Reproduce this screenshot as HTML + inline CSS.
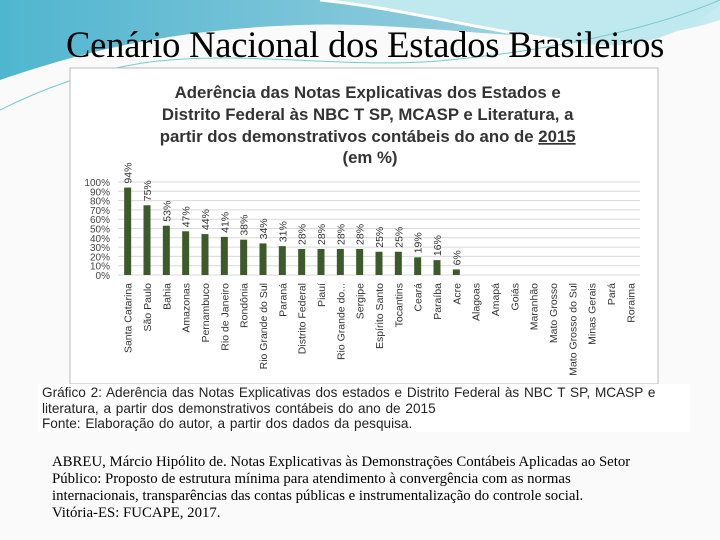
<!DOCTYPE html>
<html><head><meta charset="utf-8"><style>
body{margin:0;width:720px;height:540px;overflow:hidden;background:#fff;position:relative;font-family:"Liberation Sans",sans-serif}
.title{position:absolute;left:66px;top:23px;font:36.5px "Liberation Serif",serif;color:#000;white-space:nowrap;letter-spacing:-0.2px}
.ref{position:absolute;left:52px;top:454px;font:14.8px "Liberation Serif",serif;line-height:17px;color:#000;width:640px}
.cap{position:absolute;left:38px;top:384px;width:652px;height:48px;background:#fff;font-size:13.6px;line-height:15.5px;color:#222;padding:1px 4px;box-sizing:border-box;word-spacing:1px}
</style></head><body>
<svg width="720" height="540" style="position:absolute;left:0;top:0">
<defs><linearGradient id="g" x1="0" y1="0" x2="1" y2="0"><stop offset="0" stop-color="#4fb6cf"/><stop offset="0.6" stop-color="#8cc9dc"/><stop offset="1" stop-color="#c8ecf2"/></linearGradient></defs>
<rect width="720" height="540" fill="#fafafa"/>
<path d="M0,0 H720 V20 C600,60 450,20 300,25 C150,30 60,60 0,80 Z" fill="url(#g)"/>
<path d="M330,0 C420,10 520,40 600,45 C660,48 700,20 720,5 V0 Z" fill="#bfe8ef"/>
<path d="M320,0 C400,8 480,30 560,40" stroke="#fff" stroke-width="3" fill="none"/>
<path d="M0,110 C40,90 90,70 150,62 C250,50 350,70 450,60 C550,50 650,30 720,0" stroke="#7cc" stroke-width="1" fill="none"/>
</svg>
<div class="title">Cenário Nacional dos Estados Brasileiros</div>
<svg width="720" height="540" style="position:absolute;left:0;top:0" id="chart">
<rect x="70" y="68" width="588" height="316" fill="#fff" stroke="#bbb"/>
<text font-family="Liberation Sans" font-weight="bold" font-size="16.8" fill="#333" text-anchor="middle">
<tspan x="370" y="98">Aderência das Notas Explicativas dos Estados e</tspan>
<tspan x="370" y="120">Distrito Federal às NBC T SP, MCASP e Literatura, a</tspan>
<tspan x="370" y="142">partir dos demonstrativos contábeis do ano de <tspan text-decoration="underline">2015</tspan></tspan>
<tspan x="370" y="163">(em %)</tspan></text>
<g id="grid"></g><g id="bars"></g>
</svg>
<div class="cap">Gráfico 2: Aderência das Notas Explicativas dos estados e Distrito Federal às NBC T SP, MCASP e literatura, a partir dos demonstrativos contábeis do ano de 2015<br>Fonte: Elaboração do autor, a partir dos dados da pesquisa.</div>
<div class="ref">ABREU, Márcio Hipólito de. Notas Explicativas às Demonstrações Contábeis Aplicadas ao Setor<br>Público: Proposto de estrutura mínima para atendimento à convergência com as normas<br>internacionais, transparências das contas públicas e instrumentalização do controle social.<br>Vitória-ES: FUCAPE, 2017.</div>
<script>
const categories=["Santa Catarina","São Paulo","Bahia","Amazonas","Pernambuco","Rio de Janeiro","Rondônia","Rio Grande do Sul","Paraná","Distrito Federal","Piauí","Rio Grande do...","Sergipe","Espírito Santo","Tocantins","Ceará","Paraíba","Acre","Alagoas","Amapá","Goiás","Maranhão","Mato Grosso","Mato Grosso do Sul","Minas Gerais","Pará","Roraima"];
const values=[94,75,53,47,44,41,38,34,31,28,28,28,28,25,25,19,16,6,0,0,0,0,0,0,0,0,0];
const yTicks=[0,10,20,30,40,50,60,70,80,90,100];
const NS="http://www.w3.org/2000/svg";
const y0=275,y1=182,x0=118,x1=640;
const y=v=>y0-(v/100)*(y0-y1);
const step=(x1-x0)/categories.length;
const x=i=>x0+step*(i+0.5);
const grid=document.getElementById('grid'),bars=document.getElementById('bars');
function mk(t,a,p){const e=document.createElementNS(NS,t);for(const k in a)e.setAttribute(k,a[k]);p.appendChild(e);return e;}
yTicks.forEach(t=>{
 const l=mk('line',{x1:x0,x2:x1,y1:y(t),y2:y(t),stroke:'#d9d9d9'},grid);
 
 
 const tx=mk('text',{x:110,y:y(t)+4,'text-anchor':'end','font-size':10,'font-family':'Liberation Sans',fill:'#444'},grid);
 tx.textContent=t+'%';
 
 
});
categories.forEach((c,i)=>{
 const v=values[i],cx=x(i);
 if(v>0){
  const r=mk('rect',{x:cx-3.5,y:y(v),width:7,height:y0-y(v),fill:'#3d5a2a'},bars);
  
  
  const lb=mk('text',{transform:`translate(${cx+4},${y(v)-4}) rotate(-90)`,'font-size':10.5,'font-family':'Liberation Sans',fill:'#333'},bars);
  lb.textContent=v+'%';
  
  
 }
 const cl=mk('text',{transform:`translate(${cx+4},${y0+8}) rotate(-90)`,'text-anchor':'end','font-size':10.5,'font-family':'Liberation Sans',fill:'#333'},bars);
 cl.textContent=c;
 
 
});
</script>
</body></html>
